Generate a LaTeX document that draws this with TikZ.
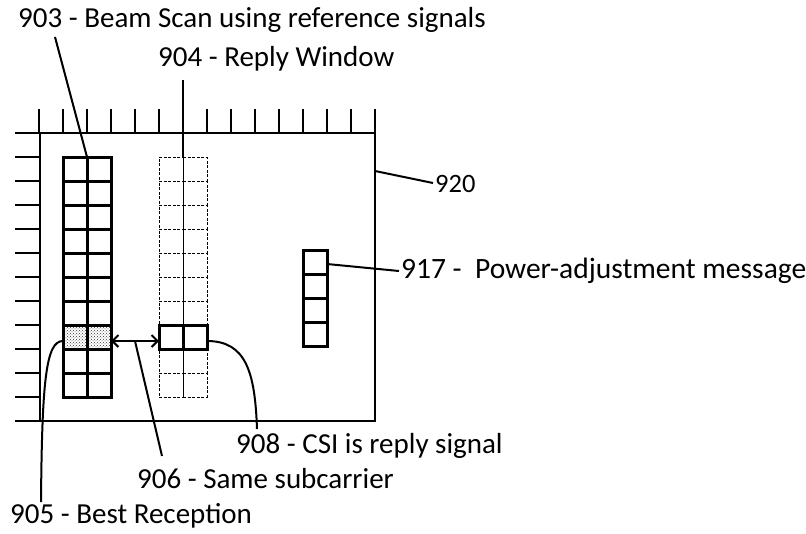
\documentclass[tikz,border=0pt]{standalone}
\usepackage{fontspec}
\setmainfont{Carlito}
\usetikzlibrary{patterns,arrows.meta}
\begin{document}
\begin{tikzpicture}[x=1pt,y=-1pt,
  lbl/.style={anchor=base west, inner sep=0pt, font=\fontsize{29}{34}\selectfont},
  cell/.style={draw, line width=3pt, minimum width=24pt, minimum height=24pt, inner sep=0pt, outer sep=0pt},
  dcell/.style={draw, line width=0.9pt, dash pattern=on 3pt off 1.6pt, minimum width=24pt, minimum height=24pt, inner sep=0pt, outer sep=0pt},
  shaded/.style={cell, pattern=crosshatch dots, pattern color=black!80},
  lead/.style={line width=2pt},
  tick/.style={line width=2pt}]
\useasboundingbox (0,0) rectangle (806,533);
% frame
\node (frame) [draw, line width=2pt, minimum width=335pt, minimum height=288pt, inner sep=0pt, outer sep=0pt] at (207.5,277) {};
\foreach \i in {0,...,14} \draw[tick] (39+24*\i,109) -- (39+24*\i,133);
\foreach \j in {0,...,12} \draw[tick] (15,133+24*\j) -- (40,133+24*\j);
% reply window (dashed)
\foreach \r in {0,...,9} {
  \node[dcell] (rw0-\r) at (171,169+24*\r) {};
  \node[dcell] (rw1-\r) at (195,169+24*\r) {};
}
% beam scan grid
\foreach \r in {0,...,9} {
  \ifnum\r=7
    \node[shaded] (bs0-\r) at (75,169+24*\r) {};
    \node[shaded] (bs1-\r) at (99,169+24*\r) {};
  \else
    \node[cell] (bs0-\r) at (75,169+24*\r) {};
    \node[cell] (bs1-\r) at (99,169+24*\r) {};
  \fi
}
% CSI cells
\node[cell] (csi0) at (171,337) {};
\node[cell] (csi1) at (195,337) {};
% power adjustment cells
\foreach \r in {0,...,3} \node[cell] (pa-\r) at (315,262+24*\r) {};
% labels
\node[lbl] (l903) at (18,27) {903 - Beam Scan using reference signals};
\node[lbl] (l904) at (158,66) {904 - Reply Window};
\node[lbl, font=\fontsize{26.5}{32}\selectfont] (l920) at (435,192) {920};
\node[lbl, font=\fontsize{29.5}{34}\selectfont] (l917) at (401,278) {917 -\ \ Power-adjustment message};
\node[lbl] (l908) at (236,453) {908 - CSI is reply signal};
\node[lbl] (l906) at (137,488) {906 - Same subcarrier};
\node[lbl] (l905) at (10,523) {905 - Best Reception};
% leader ends
\coordinate (c903) at (55,37);
\coordinate (c904) at (183,80);
\coordinate (c920) at (433,183);
\coordinate (c917) at (399,271);
\coordinate (c908) at (257,429);
\coordinate (c906) at (162,456);
\coordinate (c905) at (41,502);
\coordinate (c906a) at (135,341);
% leaders
\draw[lead] (c903) -- (bs0-0.north east);
\draw[line width=2.6pt] (c904) -- (rw0-0.north east);
\draw[lead] ([yshift=-38pt]frame.north east) -- (c920);
\draw[lead] ([yshift=-2pt]pa-0.east) -- (c917);
\draw[lead] ([yshift=-4pt]bs0-7.west) .. controls (46,341) and (42,380) .. (c905);
\draw[lead] (c906a) -- (c906);
\draw[lead] ([yshift=-4pt]csi1.east) .. controls (246,341) and (255,372) .. (c908);
% arrow
\draw[line width=2pt, {Straight Barb[length=6pt,width=12pt]}-{Straight Barb[length=6pt,width=12pt]}] ([yshift=-4pt]bs1-7.east) -- ([yshift=-4pt]csi0.west);
\end{tikzpicture}
\end{document}
